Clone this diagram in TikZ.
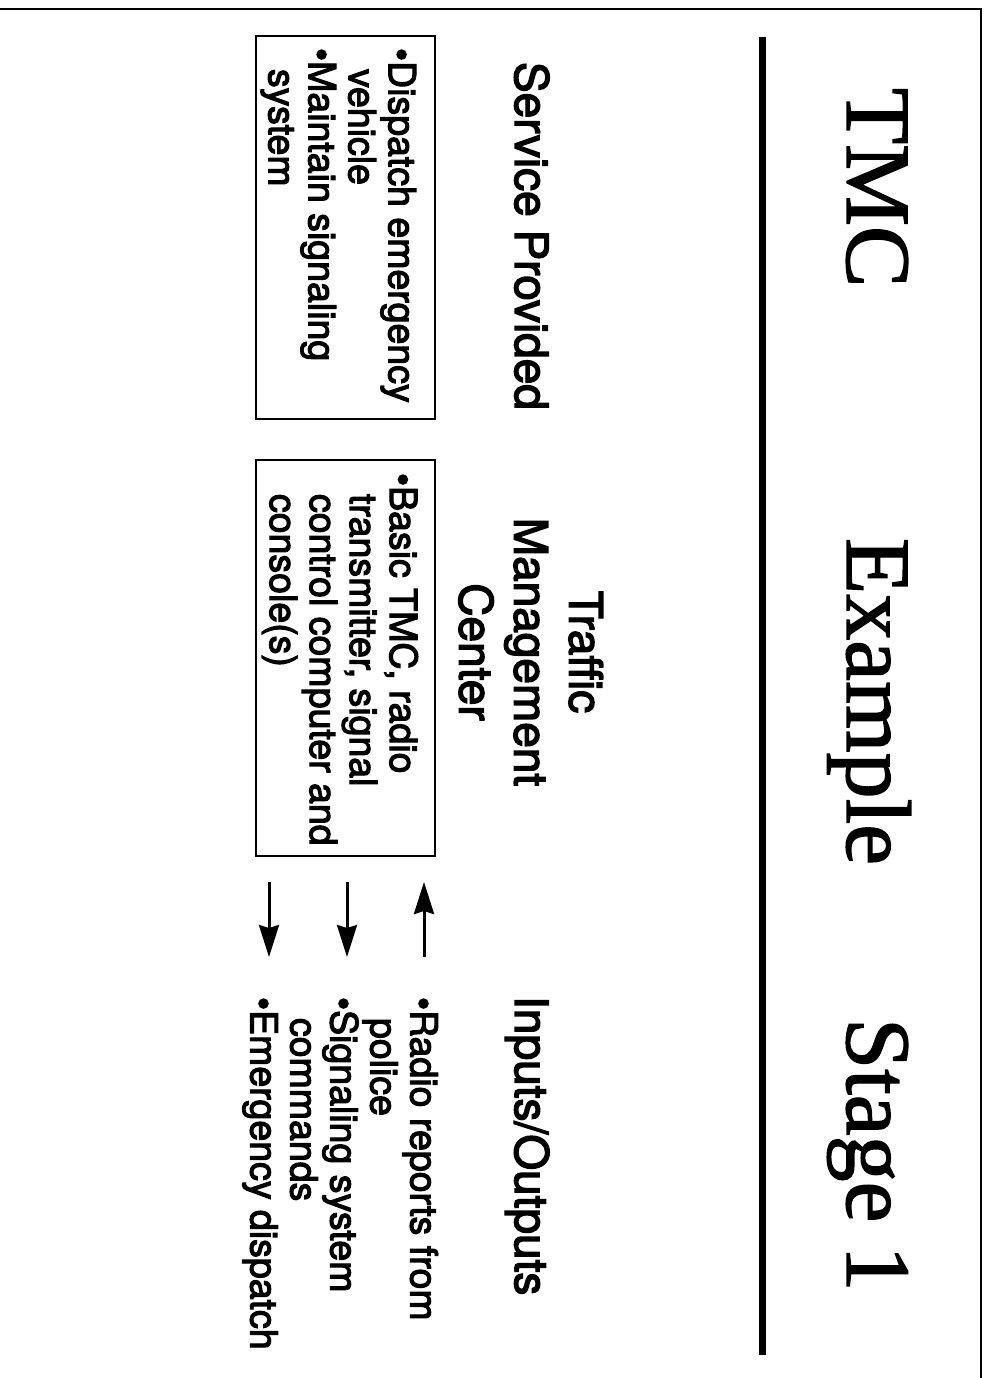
\documentclass[tikz,border=0pt]{standalone}
\usepackage{fontspec}
\setmainfont{TeX Gyre Heros}[FakeBold=3]
\newfontfamily\titlefont{Liberation Serif}[FakeBold=1.5]
\usetikzlibrary{arrows.meta}

\begin{document}
\begin{tikzpicture}[x=1pt, y=-1pt,
  vtext/.style={rotate=-90, inner sep=0pt, outer sep=0pt},
  hdr/.style={vtext, font=\fontsize{46}{55}\selectfont},
  ttl/.style={vtext, font=\titlefont\fontsize{92}{100}\selectfont},
  lst/.style={vtext, align=left, font=\fontsize{37.5}{40}\selectfont},
  itembox/.style={draw, line width=1.6pt, rotate=-90, inner sep=0pt},
  flow/.style={line width=3pt, -{Stealth[length=32pt, width=20pt, inset=3pt]}},
]
\useasboundingbox (0,0) rectangle (986,1378);
\fill[white] (0,0) rectangle (986,1378);

% page frame and title rule
\draw[line width=1.6pt] (0,9) -- (981,9) -- (981,1378);
\draw[line width=7pt] (762,37) -- (762,1355);

% title
\node[ttl, anchor=base west] (t1) at (847,88) {TMC};
\node[ttl, anchor=base west] (t2) at (847,538) {Example};
\node[ttl, anchor=base west] (t3) at (847,1018) {Stage 1};

% column headings
\node[hdr, anchor=base west] (svc) at (515,62) {Service Provided};
\node[hdr, align=center, anchor=north] (tmc) at (603,652) {Traffic\\Management\\Center};
\node[hdr, anchor=base west] (io) at (515,996) {Inputs/Outputs};

% boxes
\node[itembox, minimum width=383pt, minimum height=179pt, anchor=north west] (svcbox) at (436,35) {};
\node[itembox, minimum width=396pt, minimum height=179pt, anchor=north west] (tmcbox) at (436,459) {};

% box contents
\node[lst, anchor=north west] (svclist) at (416,48)
  {•Dispatch emergency\\\hspace*{21pt}vehicle\\•Maintain signaling\\\hspace*{21pt}system};
\node[lst, anchor=north west] (tmclist) at (418,473)
  {•Basic TMC, radio\\\hspace*{21pt}transmitter, signal\\\hspace*{21pt}control computer and\\\hspace*{21pt}console(s)};

% inputs and outputs
\node[lst, anchor=north west] (iolist) at (438,997)
  {•Radio reports from\\\hspace*{21pt}police\\•Signaling system\\\hspace*{21pt}commands\\•Emergency dispatch};

% flow arrows
\coordinate (inS) at (424,957);  \coordinate (inE) at (424,882);
\coordinate (sigS) at (347,882); \coordinate (sigE) at (347,957);
\coordinate (emS) at (269,882);  \coordinate (emE) at (269,957);
\draw[flow] (inS) -- (inE);
\draw[flow] (sigS) -- (sigE);
\draw[flow] (emS) -- (emE);
\end{tikzpicture}
\end{document}
